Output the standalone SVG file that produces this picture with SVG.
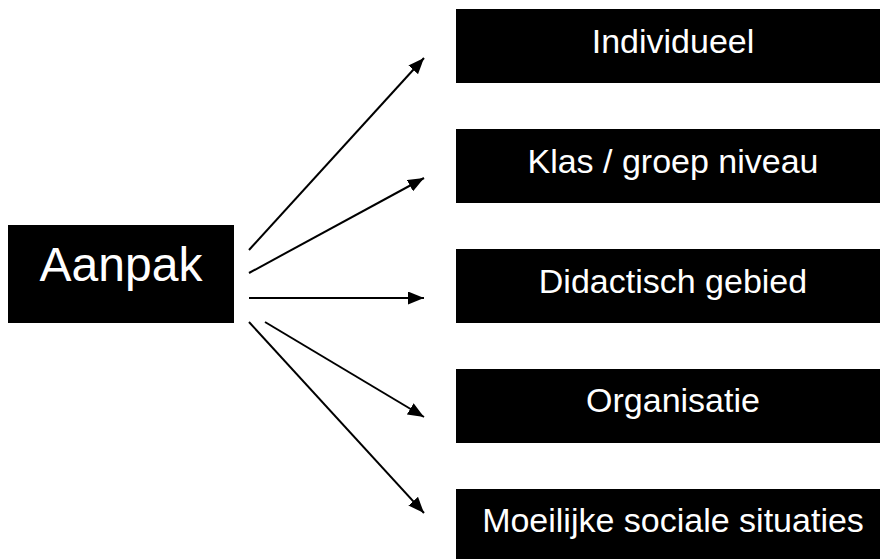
<svg xmlns="http://www.w3.org/2000/svg" width="880" height="559" viewBox="0 0 880 559">
  <style>
    .box { fill: #000000; }
    .lbl { fill: #ffffff; font-family: "Liberation Sans", Arial, sans-serif; text-anchor: middle; }
    .small { font-size: 34px; }
    .big { font-size: 48px; }
    .conn { stroke: #000000; stroke-width: 2; fill: none; marker-end: url(#ah); }
  </style>
  <defs>
    <marker id="ah" markerUnits="userSpaceOnUse" markerWidth="17" markerHeight="13" refX="16" refY="6.5" orient="auto">
      <path d="M0,0 L16,6.5 L0,13 Z" fill="#000000"/>
    </marker>
  </defs>
  <rect width="880" height="559" fill="#ffffff"/>
  <g id="aanpak">
    <rect class="box" x="8" y="225" width="226" height="98"/>
    <text class="lbl big" x="121" y="281">Aanpak</text>
  </g>
  <g id="individueel">
    <rect class="box" x="456" y="9" width="434" height="74"/>
    <text class="lbl small" x="673" y="53">Individueel</text>
  </g>
  <g id="klas">
    <rect class="box" x="456" y="129" width="434" height="74"/>
    <text class="lbl small" x="673" y="173">Klas / groep niveau</text>
  </g>
  <g id="didactisch">
    <rect class="box" x="456" y="249" width="434" height="74"/>
    <text class="lbl small" x="673" y="293">Didactisch gebied</text>
  </g>
  <g id="organisatie">
    <rect class="box" x="456" y="369" width="434" height="74"/>
    <text class="lbl small" x="673" y="412">Organisatie</text>
  </g>
  <g id="moeilijk">
    <rect class="box" x="456" y="489" width="434" height="80"/>
    <text class="lbl small" x="673" y="532">Moeilijke sociale situaties</text>
  </g>
  <g id="connectors">
    <path class="conn" d="M249,250 L424,58"/>
    <path class="conn" d="M249,273 L424,178"/>
    <path class="conn" d="M249,298 L424,298"/>
    <path class="conn" d="M265,322 L424,417"/>
    <path class="conn" d="M249,322 L424,513"/>
  </g>
</svg>
